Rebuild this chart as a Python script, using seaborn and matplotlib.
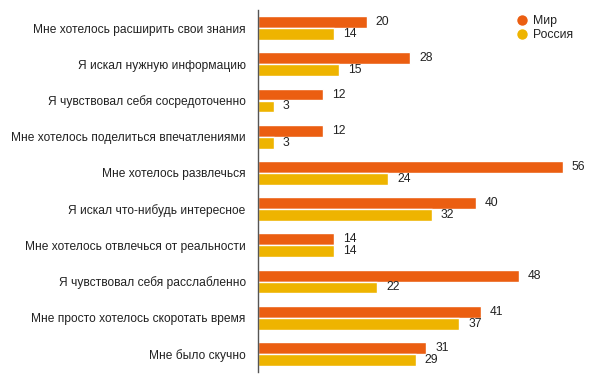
import matplotlib
matplotlib.use("Agg")
import matplotlib.pyplot as plt
import seaborn as sns
import pandas as pd
from matplotlib.lines import Line2D

categories = [
    "Мне хотелось расширить свои знания",
    "Я искал нужную информацию",
    "Я чувствовал себя сосредоточенно",
    "Мне хотелось поделиться впечатлениями",
    "Мне хотелось развлечься",
    "Я искал что-нибудь интересное",
    "Мне хотелось отвлечься от реальности",
    "Я чувствовал себя расслабленно",
    "Мне просто хотелось скоротать время",
    "Мне было скучно",
]
world = [20, 28, 12, 12, 56, 40, 14, 48, 41, 31]
russia = [14, 15, 3, 3, 24, 32, 14, 22, 37, 29]
series_names = ["Мир", "Россия"]
colors = ["#EB5E11", "#EEB400"]

df = pd.DataFrame({
    "cat": categories * 2,
    "val": world + russia,
    "series": [series_names[0]] * len(categories) + [series_names[1]] * len(categories),
})

sns.set_theme(style="white")
plt.rcParams["font.family"] = ["Liberation Sans", "DejaVu Sans"]

fig = plt.figure(figsize=(5.94, 3.84), dpi=100)
ax = fig.add_axes([257.5 / 594, 12 / 384, (594 - 257.5) / 594, 362 / 384])

sns.barplot(data=df, y="cat", x="val", hue="series", orient="h",
            palette=colors, width=0.66, ax=ax, legend=False, saturation=1)

for c in ax.containers:
    ax.bar_label(c, padding=6.5, fontsize=8.7, color="#222222")

ax.set_xlim(0, (594 - 257.5) / 5.45)
ax.set_ylim(9.5, -0.5)
ax.set_xlabel("")
ax.set_ylabel("")
ax.set_xticks([])
ax.tick_params(axis="y", length=0, pad=8.5, labelsize=8.65, labelcolor="#222222")
for s in ["top", "right", "bottom"]:
    ax.spines[s].set_visible(False)
ax.spines["left"].set_color("#555555")
ax.spines["left"].set_linewidth(1)

handles = [Line2D([0], [0], marker="o", color="w", markerfacecolor=col,
                  markersize=8.5, linestyle="") for col in colors]
fig.legend(handles, series_names, loc="upper left", bbox_to_anchor=(515 / 594, 1 - 15 / 384),
           frameon=False, fontsize=8.8, handletextpad=0.3, labelspacing=0.2,
           borderpad=0, borderaxespad=0, handlelength=1.2, labelcolor="#222222")

fig.savefig("out.png", dpi=100)
